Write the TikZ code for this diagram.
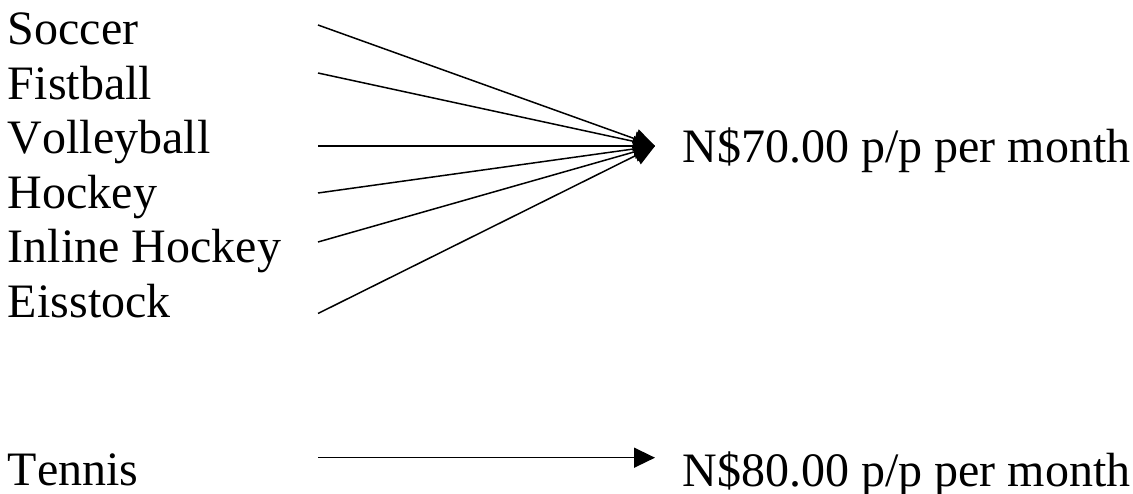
\documentclass[tikz,border=0pt]{standalone}
\usepackage{fontspec}
\setmainfont[Kerning=Off]{Liberation Serif}
\usetikzlibrary{arrows.meta}
\tikzset{
  lbl/.style={anchor=base west, inner sep=0pt, outer sep=0pt, font=\fontsize{48}{57}\selectfont},
  conn/.style={line width=1.5pt, -{Triangle[length=21pt 0,width=20pt 0]}},
}
\begin{document}
\begin{tikzpicture}[x=1pt,y=-1pt]
\useasboundingbox (0,0) rectangle (1133,494);
\node[lbl] (soccer) at (8,45) {Soccer};
\node[lbl] (fist) at (8,100) {Fistball};
\node[lbl] (volley) at (8,154) {Volleyball};
\node[lbl] (hockey) at (8,208.5) {Hockey};
\node[lbl] (inline) at (8,263) {Inline Hockey};
\node[lbl] (eis) at (8,318) {Eisstock};
\node[lbl] (tennis) at (8,485.5) {Tennis};
\node[lbl] (p70) at (682.5,163) {N\$70.00 p/p per month};
\node[lbl] (p80) at (682.5,486) {N\$80.00 p/p per month};
\coordinate (s1) at (318,25);
\coordinate (s2) at (318,73);
\coordinate (s3) at (318,146);
\coordinate (s4) at (318,193);
\coordinate (s5) at (318,242);
\coordinate (s6) at (318,313.5);
\coordinate (t70) at (655,146);
\coordinate (s7) at (318,457.7);
\coordinate (t80) at (655,457.7);
\foreach \s in {s1,s2,s3,s4,s5,s6}{\draw[conn] (\s) -- (t70);}
\draw[conn] (s7) -- (t80);
\end{tikzpicture}
\end{document}
